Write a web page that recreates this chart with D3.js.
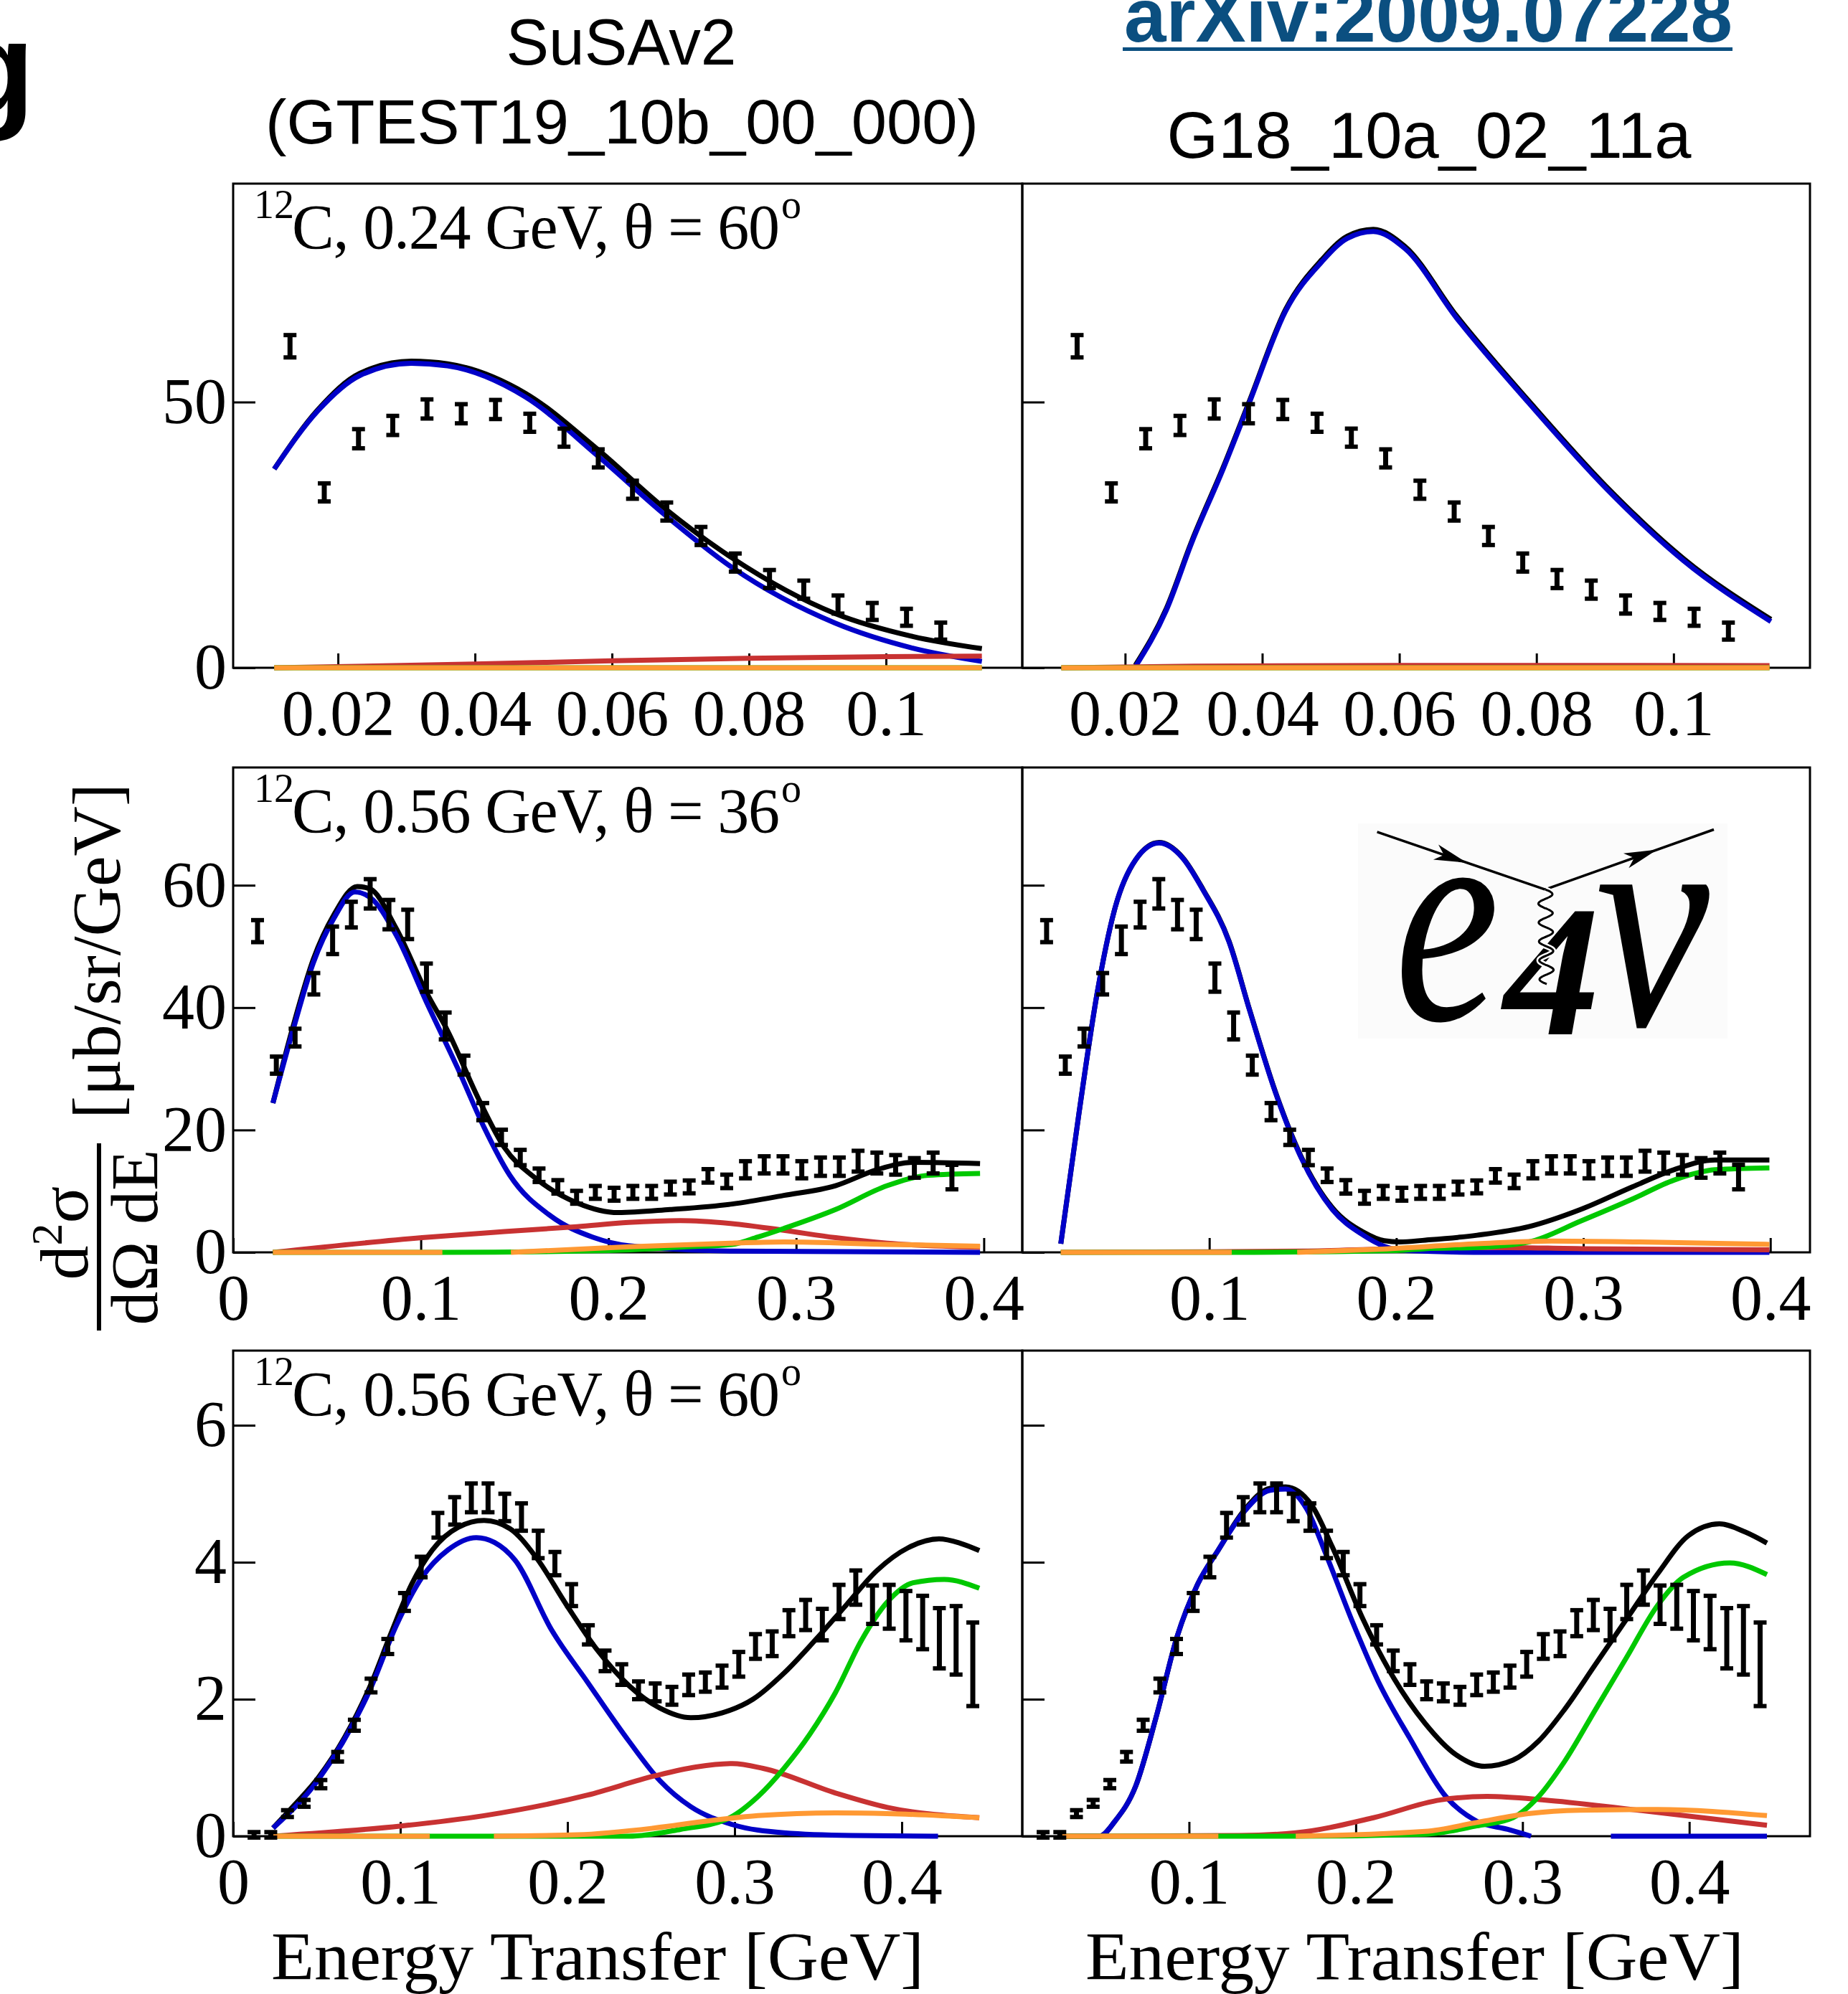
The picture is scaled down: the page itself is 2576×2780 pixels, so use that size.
<!DOCTYPE html>
<html>
<head>
<meta charset="utf-8">
<script src="https://cdn.jsdelivr.net/npm/d3@7"></script>
<style>
  html, body { margin: 0; padding: 0; background: #ffffff; }
  svg { display: block; }
</style>
</head>
<body>
<svg id="fig" width="2576" height="2780"></svg>
<script>
// ------------------------------------------------------------------
// Measured electron scattering cross sections on 12C (data points)
// ------------------------------------------------------------------
const e024t60X = [0.013,0.018,0.023,0.028,0.033,0.038,0.043,0.048,0.053,0.058,0.063,0.068,0.073,0.078,0.083,0.088,0.093,0.098,0.103,0.108];
const e024t60Y = [60.5,33.0,43.1,45.6,48.7,47.8,48.6,46.1,43.3,39.4,33.5,29.4,24.8,19.8,16.7,14.7,11.9,10.6,9.5,6.9];
const e024t60Err = [2.1,1.7,1.8,1.8,1.8,1.8,1.8,1.7,1.7,1.7,1.7,1.7,1.7,1.7,1.7,1.7,1.7,1.6,1.6,1.6];

const e056t36X = [0.013,0.023,0.033,0.043,0.053,0.063,0.073,0.083,0.093,0.103,0.113,0.123,0.133,0.143,0.153,0.163,0.173,0.183,0.193,0.203,0.213,0.223,0.233,0.243,0.253,0.263,0.273,0.283,0.293,0.303,0.313,0.323,0.333,0.343,0.353,0.363,0.373,0.383];
const e056t36Y = [52.5,30.6,35.1,43.9,51.0,55.2,58.6,55.2,53.6,44.9,37.0,30.6,23.0,18.8,15.5,12.6,10.7,9.0,9.8,9.5,9.8,9.8,10.5,10.7,12.5,11.6,13.5,14.3,14.3,13.5,14.0,14.0,14.9,14.6,14.3,13.8,14.6,12.3];
const e056t36Err = [1.8,1.4,1.45,1.75,2.25,2.1,2.4,2.4,2.4,2.3,2.2,1.55,1.4,1.25,1.25,1.1,1.1,1.05,1.05,1.05,1.05,1.05,1.05,1.05,1.1,1.1,1.4,1.4,1.4,1.4,1.5,1.5,1.7,1.7,1.6,1.6,1.7,2.0];

const e056t60X = [0.0125,0.0225,0.0325,0.0425,0.0525,0.0625,0.0725,0.0825,0.0925,0.1025,0.1125,0.1225,0.1325,0.1425,0.1525,0.1625,0.1725,0.1825,0.1925,0.2025,0.2125,0.2225,0.2325,0.2425,0.2525,0.2625,0.2725,0.2825,0.2925,0.3025,0.3125,0.3225,0.3325,0.3425,0.3525,0.3625,0.3725,0.3825,0.3925,0.4025,0.4125,0.4225,0.4325,0.4425];
const e056t60Y = [0.02,0.02,0.33,0.48,0.76,1.16,1.62,2.20,2.77,3.42,3.93,4.54,4.75,4.94,4.94,4.80,4.66,4.26,3.98,3.52,2.94,2.56,2.36,2.13,2.10,2.05,2.21,2.25,2.33,2.51,2.77,2.81,3.11,3.23,3.09,3.42,3.63,3.38,3.35,3.22,3.12,2.89,2.86,2.51];
const e056t60Err = [0.04,0.04,0.05,0.05,0.06,0.07,0.08,0.1,0.11,0.13,0.15,0.18,0.2,0.21,0.21,0.2,0.2,0.2,0.17,0.16,0.14,0.15,0.15,0.13,0.13,0.13,0.15,0.14,0.16,0.18,0.18,0.18,0.19,0.22,0.23,0.25,0.25,0.28,0.32,0.36,0.39,0.44,0.5,0.61];

// ------------------------------------------------------------------
// GENIE predictions: [energy transfer, cross section]; null = not drawn
// total, QE, MEC, RES, DIS
// ------------------------------------------------------------------
// SuSAv2, 0.24 GeV, 60 deg
const susaE024Total = [[0.0107,37.4],[0.0171,48.6],[0.0232,55.4],[0.0307,57.7],[0.036,57.2],[0.0473,51.7],[0.0579,41.1],[0.0677,30.0],[0.0775,20.7],[0.0926,10.2],[0.1039,5.9],[0.114,3.6]];
const susaE024QE    = [[0.0107,37.4],[0.0171,48.4],[0.0232,55.0],[0.0307,57.3],[0.036,56.8],[0.0473,51.0],[0.0579,39.9],[0.0677,28.8],[0.0775,18.9],[0.0926,8.4],[0.1039,3.7],[0.114,1.2]];
const susaE024MEC   = [[0.0107,0],[0.04,0.7],[0.06,1.3],[0.08,1.8],[0.1,2.1],[0.114,2.2]];
const susaE024RES   = [[0.0107,0],[0.06,0],[0.114,0]];
const susaE024DIS   = [[0.0107,0],[0.06,0],[0.114,0]];

// G18_10a_02_11a, 0.24 GeV, 60 deg
const g18E024Total = [[0.0215,0.5],[0.026,11.1],[0.0298,24.1],[0.0343,37.7],[0.0381,50.1],[0.0434,67.4],[0.0487,76.8],[0.0524,81.2],[0.0562,82.5],[0.0608,79.3],[0.0683,66.3],[0.0789,50.2],[0.0902,34.1],[0.1015,20.5],[0.1142,9.1]];
const g18E024QE    = [[0.0215,0.2],[0.026,10.8],[0.0298,23.8],[0.0343,37.4],[0.0381,49.8],[0.0434,67.1],[0.0487,76.4],[0.0524,80.8],[0.0562,82.1],[0.0608,78.9],[0.0683,65.9],[0.0789,49.8],[0.0902,33.7],[0.1015,20.1],[0.1142,8.7]];
const g18E024MEC   = [[0.0107,0],[0.03,0.3],[0.06,0.45],[0.114,0.4]];
const g18E024RES   = [[0.0107,0],[0.06,0],[0.114,0]];
const g18E024DIS   = [[0.0107,0],[0.06,0],[0.114,0]];

// SuSAv2, 0.56 GeV, 36 deg
const susaE056T36Total = [[0.0212,24.4],[0.0317,36.7],[0.0427,47.9],[0.0537,55.2],[0.0661,59.8],[0.073,59.4],[0.0868,53.0],[0.1033,42.3],[0.1143,36.2],[0.1309,25.0],[0.1446,17.1],[0.1612,12.1],[0.1832,8.1],[0.2052,6.5],[0.2328,7.0],[0.2659,7.9],[0.2934,9.3],[0.321,10.9],[0.343,13.5],[0.3623,14.7],[0.398,14.5]];
const susaE056T36QE    = [[0.0212,24.4],[0.0317,36.1],[0.0427,47.3],[0.0537,54.6],[0.0648,58.9],[0.073,58.0],[0.0868,51.9],[0.1033,40.7],[0.1198,30.0],[0.1336,20.5],[0.1474,12.6],[0.1694,5.9],[0.1915,2.5],[0.2107,1.1],[0.266,0.2],[0.398,0]];
const susaE056T36MEC   = [[0.0212,0],[0.1006,2.4],[0.1446,3.4],[0.1832,4.2],[0.2107,4.9],[0.2383,5.2],[0.2659,4.7],[0.2934,3.6],[0.321,2.4],[0.3485,1.5],[0.398,0.85]];
const susaE056T36RES   = [[0.0212,0],[0.1115,0],[0.2,0.3],[0.2383,0.85],[0.2659,1.3],[0.2796,2.5],[0.2934,3.9],[0.321,7.0],[0.3485,10.9],[0.3705,12.6],[0.398,12.9]];
const susaE056T36DIS   = [[0.0212,0],[0.1115,0],[0.13,null],[0.148,0],[0.2107,0.9],[0.2659,1.5],[0.2934,1.7],[0.3485,1.3],[0.398,1.0]];

// G18_10a_02_11a, 0.56 GeV, 36 deg
const g18E056T36Total = [[0.0206,1.4],[0.0303,22.7],[0.04,42.3],[0.0497,56.4],[0.0607,64.2],[0.0732,67.0],[0.0856,64.6],[0.0967,59.3],[0.1105,50.9],[0.1216,39.6],[0.1354,26.2],[0.1492,15.6],[0.1658,7.3],[0.1824,3.3],[0.1935,1.9],[0.2018,1.7],[0.2156,2.0],[0.2432,2.8],[0.2709,4.2],[0.2985,7.0],[0.3262,10.7],[0.3484,13.5],[0.3704,15.1],[0.3995,15.1]];
const g18E056T36QE    = [[0.0206,1.4],[0.0303,22.7],[0.04,42.3],[0.0497,56.4],[0.0607,64.2],[0.0732,66.9],[0.0856,64.5],[0.0967,59.2],[0.1105,50.8],[0.1216,39.5],[0.1354,26.1],[0.1492,15.4],[0.1658,7.0],[0.1824,2.8],[0.1935,1.0],[0.205,0.3],[0.25,0],[0.3,0],[0.3995,0]];
const g18E056T36MEC   = [[0.0206,0],[0.1,0.1],[0.15,0.2],[0.2,0.6],[0.25,0.8],[0.3,0.6],[0.3995,0.4]];
const g18E056T36RES   = [[0.0206,0],[0.112,0],[0.2,0.3],[0.2156,0.6],[0.2432,0.8],[0.2709,1.7],[0.2985,5.1],[0.3262,8.7],[0.3484,11.8],[0.3704,13.5],[0.3995,13.8]];
const g18E056T36DIS   = [[0.0206,0],[0.112,0],[0.13,null],[0.147,0],[0.19,0.5],[0.2432,1.4],[0.283,1.85],[0.33,1.7],[0.3995,1.3]];

// SuSAv2, 0.56 GeV, 60 deg
const susaE056T60Total = [[0.0239,0.12],[0.0357,0.43],[0.0511,0.86],[0.0666,1.44],[0.0821,2.20],[0.0944,2.96],[0.1068,3.68],[0.1192,4.18],[0.1346,4.51],[0.1501,4.61],[0.1656,4.49],[0.181,4.08],[0.1996,3.37],[0.2181,2.71],[0.2367,2.20],[0.2553,1.87],[0.2738,1.73],[0.2924,1.80],[0.311,2.00],[0.3295,2.38],[0.3481,2.86],[0.3666,3.37],[0.3852,3.88],[0.4037,4.21],[0.4223,4.34],[0.4347,4.28],[0.4464,4.17]];
const susaE056T60QE    = [[0.0239,0.12],[0.0511,0.83],[0.0821,2.15],[0.0975,3.07],[0.113,3.78],[0.1285,4.18],[0.1455,4.36],[0.1563,4.29],[0.1687,4.03],[0.1903,3.02],[0.212,2.25],[0.2367,1.39],[0.2553,0.81],[0.2738,0.43],[0.2986,0.17],[0.3295,0.05],[0.37,0.01],[0.4217,0]];
const susaE056T60MEC   = [[0.0239,0],[0.1006,0.15],[0.1501,0.30],[0.212,0.60],[0.2522,0.88],[0.2769,1.01],[0.2986,1.06],[0.3171,0.99],[0.3604,0.63],[0.3914,0.42],[0.4464,0.27]];
const susaE056T60RES   = [[0.0239,0],[0.1176,0],[0.2367,0],[0.2676,0.10],[0.2955,0.25],[0.314,0.58],[0.3295,0.99],[0.345,1.49],[0.3604,2.10],[0.3759,2.86],[0.3914,3.42],[0.4068,3.70],[0.4254,3.75],[0.4464,3.62]];
const susaE056T60DIS   = [[0.0239,0],[0.1176,0],[0.135,null],[0.156,0],[0.2058,0.02],[0.2522,0.12],[0.2831,0.22],[0.314,0.30],[0.3604,0.34],[0.3914,0.33],[0.4464,0.27]];

// G18_10a_02_11a, 0.56 GeV, 60 deg
const g18E056T60Total = [[0.0231,0],[0.0463,0],[0.0556,0.22],[0.068,0.73],[0.0804,1.75],[0.0928,2.91],[0.1052,3.68],[0.1176,4.18],[0.1331,4.76],[0.1486,5.08],[0.1579,5.10],[0.1734,4.84],[0.1858,4.23],[0.2043,3.17],[0.223,2.30],[0.2415,1.65],[0.2601,1.19],[0.2772,1.02],[0.2942,1.11],[0.3097,1.39],[0.3252,1.85],[0.3438,2.51],[0.3624,3.17],[0.381,3.83],[0.3996,4.39],[0.4181,4.56],[0.4337,4.44],[0.4466,4.28]];
const g18E056T60QE    = [[0.0231,0],[0.0463,0],[0.0556,0.22],[0.068,0.73],[0.0804,1.75],[0.0928,2.91],[0.1052,3.68],[0.1176,4.18],[0.1331,4.74],[0.1486,5.05],[0.1579,5.07],[0.1703,4.79],[0.1827,4.08],[0.1982,3.12],[0.2137,2.25],[0.2322,1.44],[0.254,0.58],[0.2725,0.22],[0.2911,0.10],[0.3051,0],[0.33,null],[0.353,0],[0.4466,0]];
const g18E056T60MEC   = [[0.0231,0],[0.13,0.01],[0.164,0.05],[0.2106,0.27],[0.2509,0.53],[0.2787,0.58],[0.3128,0.53],[0.3655,0.39],[0.4466,0.16]];
const g18E056T60RES   = [[0.0231,0],[0.1176,0],[0.164,0],[0.2415,0.03],[0.2725,0.15],[0.2942,0.27],[0.3097,0.58],[0.3252,1.09],[0.3438,1.85],[0.3624,2.61],[0.381,3.37],[0.3965,3.78],[0.4243,3.99],[0.4466,3.82]];
const g18E056T60DIS   = [[0.0231,0],[0.1176,0],[0.14,null],[0.164,0],[0.2415,0.07],[0.2725,0.20],[0.3035,0.33],[0.3345,0.38],[0.381,0.39],[0.4466,0.30]];

// ------------------------------------------------------------------
// Axis ticks and labels
// ------------------------------------------------------------------
const modelTitles = [["SuSAv2", "(GTEST19_10b_00_000)"], ["G18_10a_02_11a"]];
const kinematics = ["0.24 GeV, \u03b8 = 60", "0.56 GeV, \u03b8 = 36", "0.56 GeV, \u03b8 = 60"];
const yTickValues = [[0, 50], [0, 20, 40, 60], [0, 2, 4, 6]];
const yTickLabels = [["0", "50"], ["0", "20", "40", "60"], ["0", "2", "4", "6"]];
const xTickValuesLeft  = [[0.02, 0.04, 0.06, 0.08, 0.1], [0, 0.1, 0.2, 0.3, 0.4], [0, 0.1, 0.2, 0.3, 0.4]];
const xTickLabelsLeft  = [["0.02", "0.04", "0.06", "0.08", "0.1"], ["0", "0.1", "0.2", "0.3", "0.4"], ["0", "0.1", "0.2", "0.3", "0.4"]];
const xTickValuesRight = [[0.02, 0.04, 0.06, 0.08, 0.1], [0.1, 0.2, 0.3, 0.4], [0.1, 0.2, 0.3, 0.4]];
const xTickLabelsRight = [["0.02", "0.04", "0.06", "0.08", "0.1"], ["0.1", "0.2", "0.3", "0.4"], ["0.1", "0.2", "0.3", "0.4"]];

// ------------------------------------------------------------------
// Layout
// ------------------------------------------------------------------
const SERIF = "'Liberation Serif','Times New Roman',Times,serif";
const SANS = "'Liberation Sans',Arial,Helvetica,sans-serif";
const colX = [325, 1425], colW = [1100, 1098];
const rowY = [256, 1070, 1883], rowH = [675, 676, 677];
const xDomains = [[[0.0047, 0.1199], [0.005, 0.1199]], [[0, 0.4205], [0, 0.4212]], [[0, 0.4721], [0, 0.4724]]];
const yMax = [91.1, 79.25, 7.09];
const componentColor = { total: "#000000", qe: "#0000c8", mec: "#c83232", res: "#00c800", dis: "#ff9933" };
const drawOrder = ["total", "qe", "mec", "res", "dis"];

const panels = [
  { row: 0, col: 0, x: e024t60X, y: e024t60Y, err: e024t60Err,
    curves: { total: susaE024Total, qe: susaE024QE, mec: susaE024MEC, res: susaE024RES, dis: susaE024DIS } },
  { row: 0, col: 1, x: e024t60X, y: e024t60Y, err: e024t60Err,
    curves: { total: g18E024Total, qe: g18E024QE, mec: g18E024MEC, res: g18E024RES, dis: g18E024DIS } },
  { row: 1, col: 0, x: e056t36X, y: e056t36Y, err: e056t36Err,
    curves: { total: susaE056T36Total, qe: susaE056T36QE, mec: susaE056T36MEC, res: susaE056T36RES, dis: susaE056T36DIS } },
  { row: 1, col: 1, x: e056t36X, y: e056t36Y, err: e056t36Err,
    curves: { total: g18E056T36Total, qe: g18E056T36QE, mec: g18E056T36MEC, res: g18E056T36RES, dis: g18E056T36DIS } },
  { row: 2, col: 0, x: e056t60X, y: e056t60Y, err: e056t60Err,
    curves: { total: susaE056T60Total, qe: susaE056T60QE, mec: susaE056T60MEC, res: susaE056T60RES, dis: susaE056T60DIS } },
  { row: 2, col: 1, x: e056t60X, y: e056t60Y, err: e056t60Err,
    curves: { total: g18E056T60Total, qe: g18E056T60QE, mec: g18E056T60MEC, res: g18E056T60RES, dis: g18E056T60DIS } }
];

const svg = d3.select("#fig");
svg.append("rect").attr("width", 2576).attr("height", 2780).attr("fill", "#ffffff");

// place a glyph so that its inked outline fills a target box [x, y, w, h]
const measureCtx = document.createElement("canvas").getContext("2d");
function fitGlyph(g, ch, box, style, weight) {
  const size = 400;
  measureCtx.font = `${style} ${weight} ${size}px 'Liberation Serif'`;
  const m = measureCtx.measureText(ch);
  const left = m.actualBoundingBoxLeft, right = m.actualBoundingBoxRight;
  const asc = m.actualBoundingBoxAscent, desc = m.actualBoundingBoxDescent;
  const sx = box[2] / (left + right), sy = box[3] / (asc + desc);
  g.append("text").attr("font-family", SERIF).attr("font-style", style).attr("font-weight", weight)
    .attr("font-size", size)
    .attr("transform", `translate(${box[0] + left * sx},${box[1] + asc * sy}) scale(${sx},${sy})`)
    .text(ch);
}

// e4nu logo sits behind the curves of the middle-right panel
function drawLogo(g) {
  g.append("rect").attr("x", 1893).attr("y", 1148).attr("width", 515).attr("height", 300).attr("fill", "#fbfbfb");
  const lines = [[1919.6, 1159.9, 2153.8, 1240.2], [2153.8, 1240.2, 2389, 1156.5]];
  lines.forEach(l => g.append("line").attr("x1", l[0]).attr("y1", l[1]).attr("x2", l[2]).attr("y2", l[3])
    .attr("stroke", "#000").attr("stroke-width", 3.5));
  // notched arrow heads along each fermion line
  [[2045, 1202.9, 0.946, 0.324], [2310, 1184.6, 0.942, -0.335]].forEach(a => {
    const [tx, ty, ux, uy] = a, nx = -uy, ny = ux, L = 46, W = 11;
    const bx = tx - L * ux, by = ty - L * uy;
    const pts = [[tx, ty], [bx + W * nx, by + W * ny], [bx + 12 * ux, by + 12 * uy], [bx - W * nx, by - W * ny]];
    g.append("path").attr("d", "M" + pts.map(p => p.join(",")).join("L") + "Z").attr("fill", "#000");
  });
  fitGlyph(g, "e", [1949, 1218, 134, 210], "italic", "normal");
  fitGlyph(g, "4", [2092, 1267, 134, 175], "italic", "bold");
  fitGlyph(g, "\u03bd", [2224, 1229, 162, 207], "italic", "normal");
  // photon propagator
  const wave = [];
  for (let i = 0; i <= 120; i++) {
    const t = i / 120;
    wave.push([2154 + 2 * t + 10 * Math.sin(t * Math.PI * 2 * 5), 1240 + 132 * t]);
  }
  const wl = d3.line().curve(d3.curveBasis);
  g.append("path").attr("d", wl(wave)).attr("fill", "none").attr("stroke", "#fff").attr("stroke-width", 8);
  g.append("path").attr("d", wl(wave)).attr("fill", "none").attr("stroke", "#000").attr("stroke-width", 3);
}
drawLogo(svg.append("g").attr("class", "logo"));

panels.forEach(p => {
  const x0 = colX[p.col], x1 = colX[p.col] + colW[p.col];
  const y0 = rowY[p.row], y1 = rowY[p.row] + rowH[p.row];
  const x = d3.scaleLinear().domain(xDomains[p.row][p.col]).range([x0, x1]);
  const y = d3.scaleLinear().domain([0, yMax[p.row]]).range([y1, y0]);
  const g = svg.append("g");

  // frame
  g.append("rect").attr("x", x0).attr("y", y0).attr("width", x1 - x0).attr("height", y1 - y0)
    .attr("fill", "none").attr("stroke", "#000").attr("stroke-width", 3);

  // axes with inward ticks
  const yAxis = d3.axisLeft(y).tickValues(yTickValues[p.row]).tickSizeInner(-31).tickSizeOuter(0).tickPadding(9)
    .tickFormat((d, i) => p.col === 0 ? yTickLabels[p.row][i] : "");
  const xVals = p.col === 0 ? xTickValuesLeft[p.row] : xTickValuesRight[p.row];
  const xLabs = p.col === 0 ? xTickLabelsLeft[p.row] : xTickLabelsRight[p.row];
  const xAxis = d3.axisBottom(x).tickValues(xVals).tickSizeInner(-20).tickSizeOuter(0).tickPadding(30)
    .tickFormat((d, i) => xLabs[i]);
  [[yAxis, `translate(${x0},0)`], [xAxis, `translate(0,${y1})`]].forEach(([ax, tr]) => {
    const a = g.append("g").attr("transform", tr).call(ax);
    a.select(".domain").remove();
    a.selectAll(".tick line").attr("stroke", "#000").attr("stroke-width", 3);
    a.selectAll(".tick text").attr("font-family", SERIF).attr("font-size", 90).attr("fill", "#000");
  });

  // model components
  const line = d3.line().defined(d => d[1] !== null).x(d => x(d[0])).y(d => y(d[1])).curve(d3.curveMonotoneX);
  drawOrder.forEach(k => {
    g.append("path").attr("d", line(p.curves[k])).attr("fill", "none")
      .attr("stroke", componentColor[k]).attr("stroke-width", 7).attr("stroke-linejoin", "round");
  });

  // data with error bars
  const pts = p.x.map((v, i) => ({ x: v, y: p.y[i], e: p.err[i] }));
  const eb = g.append("g").selectAll("g").data(pts).join("g");
  eb.append("line").attr("x1", d => x(d.x)).attr("x2", d => x(d.x))
    .attr("y1", d => y(d.y - d.e)).attr("y2", d => y(d.y + d.e))
    .attr("stroke", "#000").attr("stroke-width", 7);
  [-1, 1].forEach(s => {
    eb.append("line").attr("x1", d => x(d.x) - 9).attr("x2", d => x(d.x) + 9)
      .attr("y1", d => y(d.y + s * d.e)).attr("y2", d => y(d.y + s * d.e))
      .attr("stroke", "#000").attr("stroke-width", 6);
  });

  // kinematics label
  if (p.col === 0) {
    g.append("text").attr("x", x0 + 29).attr("y", y0 + 48).attr("font-family", SERIF).attr("font-size", 56).text("12");
    g.append("text").attr("x", x0 + 82).attr("y", y0 + 90).attr("font-family", SERIF).attr("font-size", 88)
      .attr("textLength", 680).attr("lengthAdjust", "spacing").text("C, " + kinematics[p.row]);
    g.append("text").attr("x", x0 + 82 + 680 + 2).attr("y", y0 + 48).attr("font-family", SERIF).attr("font-size", 56).text("o");
  }
});

// model titles
svg.append("text").attr("x", 866).attr("y", 90).attr("text-anchor", "middle").attr("font-family", SANS)
  .attr("font-size", 90).attr("textLength", 321).attr("lengthAdjust", "spacingAndGlyphs").text(modelTitles[0][0]);
svg.append("text").attr("x", 867).attr("y", 200).attr("text-anchor", "middle").attr("font-family", SANS)
  .attr("font-size", 88).attr("textLength", 994).attr("lengthAdjust", "spacingAndGlyphs").text(modelTitles[0][1]);
svg.append("text").attr("x", 1992).attr("y", 220).attr("text-anchor", "middle").attr("font-family", SANS)
  .attr("font-size", 90).attr("textLength", 731).attr("lengthAdjust", "spacingAndGlyphs").text(modelTitles[1][0]);

// reference link
svg.append("text").attr("x", 1567).attr("y", 58).attr("font-family", SANS).attr("font-weight", "bold")
  .attr("font-size", 106).attr("fill", "#0b4f80").attr("textLength", 848).attr("lengthAdjust", "spacingAndGlyphs")
  .text("arXiv:2009.07228");
svg.append("rect").attr("x", 1565).attr("y", 66).attr("width", 850).attr("height", 5).attr("fill", "#0b4f80");

// sub-figure letter
svg.append("text").attr("x", -64).attr("y", 158).attr("font-family", SANS).attr("font-weight", "bold")
  .attr("font-size", 184).text("g");

// x-axis titles
[[833, 910], [1972, 918]].forEach(([cx, w]) => {
  svg.append("text").attr("x", cx).attr("y", 2760).attr("text-anchor", "middle").attr("font-family", SERIF)
    .attr("font-size", 95).attr("textLength", w).attr("lengthAdjust", "spacingAndGlyphs").text("Energy Transfer [GeV]");
});

// y-axis title: d²σ / (dΩ dE) [μb/sr/GeV]
const yt = svg.append("g").attr("transform", "translate(0,1725) rotate(-90)");
const num = yt.append("text").attr("x", 6).attr("y", 122).attr("text-anchor", "middle")
  .attr("font-family", SERIF).attr("font-size", 96);
num.append("tspan").text("d");
num.append("tspan").attr("font-size", 62).attr("dy", -36).text("2");
num.append("tspan").attr("dy", 36).text("\u03c3");
yt.append("rect").attr("x", -130).attr("y", 135).attr("width", 261).attr("height", 6).attr("fill", "#000");
yt.append("text").attr("x", 0).attr("y", 219).attr("text-anchor", "middle").attr("font-family", SERIF)
  .attr("font-size", 94).text("d\u03a9 dE");
yt.append("text").attr("x", 165).attr("y", 167).attr("font-family", SERIF).attr("font-size", 96)
  .attr("textLength", 468).attr("lengthAdjust", "spacingAndGlyphs").text("[\u03bcb/sr/GeV]");
</script>
</body>
</html>
